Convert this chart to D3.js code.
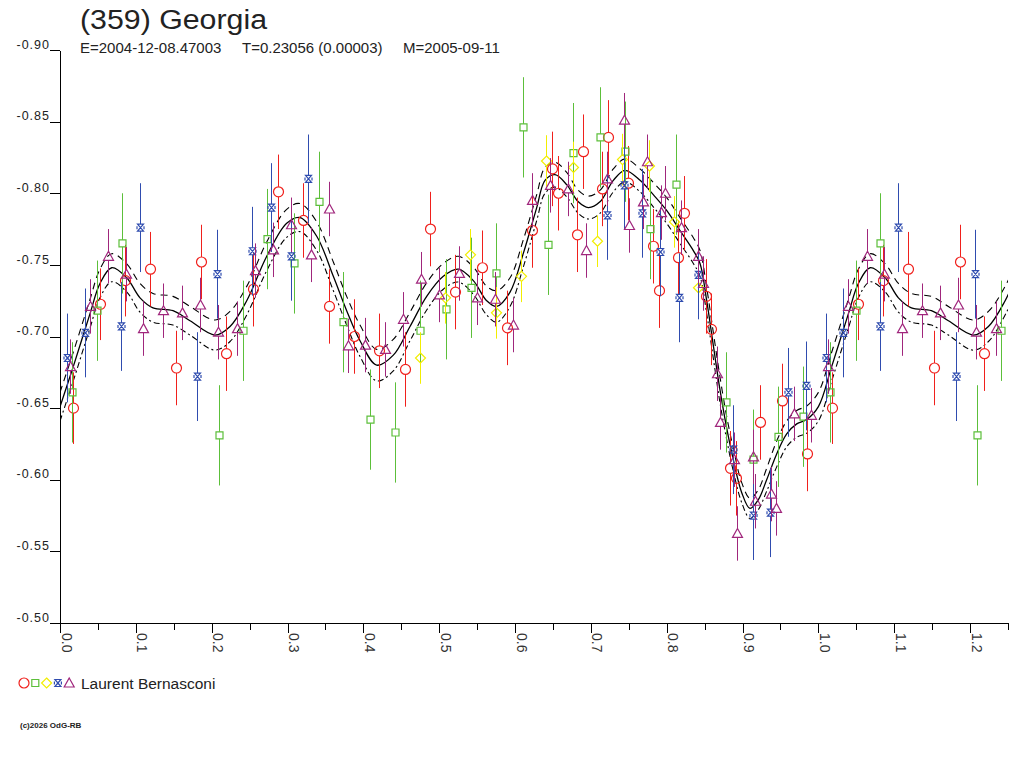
<!DOCTYPE html>
<html>
<head>
<meta charset="utf-8">
<script src="https://cdn.jsdelivr.net/npm/d3@7"></script>
<style>
  body { margin: 0; background: #fff; }
  svg { display: block; font-family: "Liberation Sans", Arial, sans-serif; }
</style>
</head>
<body>
<svg id="chart" width="1024" height="768"></svg>
<script>
// observations per session: [phase, magnitude, error]
const red = [
  [0.0175, -0.650, 0.025], [0.0527, -0.7225, 0.025], [0.0857, -0.739, 0.025], [0.1187, -0.747, 0.026],
  [0.1530, -0.678, 0.026], [0.1863, -0.752, 0.026], [0.2189, -0.688, 0.026], [0.2541, -0.733, 0.026],
  [0.2868, -0.801, 0.026], [0.3198, -0.781, 0.026], [0.3551, -0.721, 0.026], [0.3881, -0.700, 0.026],
  [0.4206, -0.690, 0.026], [0.4553, -0.677, 0.026], [0.4883, -0.775, 0.026], [0.5208, -0.731, 0.026],
  [0.5564, -0.748, 0.026], [0.5890, -0.706, 0.026], [0.6224, -0.774, 0.026], [0.6491, -0.817, 0.026],
  [0.6570, -0.800, 0.026], [0.6817, -0.771, 0.026], [0.6900, -0.829, 0.026], [0.7143, -0.803, 0.026],
  [0.7230, -0.839, 0.026], [0.7496, -0.807, 0.026], [0.7823, -0.763, 0.026], [0.7902, -0.732, 0.026],
  [0.8155, -0.755, 0.026], [0.8232, -0.786, 0.026], [0.8518, -0.728, 0.026], [0.8584, -0.705, 0.025],
  [0.8834, -0.608, 0.026], [0.8914, -0.601, 0.026], [0.9230, -0.640, 0.026], [0.9516, -0.655, 0.026],
  [0.9846, -0.618, 0.026]
];
const green = [
  [0.0154, -0.661, 0.035], [0.0492, -0.718, 0.035], [0.0814, -0.765, 0.035], [0.2093, -0.631, 0.035],
  [0.2413, -0.704, 0.035], [0.2736, -0.768, 0.035], [0.3085, -0.751, 0.035], [0.3415, -0.794, 0.035],
  [0.3736, -0.710, 0.035], [0.4088, -0.642, 0.035], [0.4417, -0.633, 0.035], [0.4747, -0.704, 0.035],
  [0.5090, -0.719, 0.035], [0.5423, -0.734, 0.035], [0.5753, -0.744, 0.035], [0.6101, -0.846, 0.035],
  [0.6435, -0.764, 0.035], [0.6760, -0.828, 0.035], [0.7116, -0.839, 0.035], [0.7450, -0.829, 0.035],
  [0.7780, -0.775, 0.035], [0.8126, -0.806, 0.035], [0.8786, -0.654, 0.035], [0.9142, -0.614, 0.035],
  [0.9471, -0.630, 0.035], [0.9801, -0.644, 0.035]
];
const yellow = [
  [0.4747, -0.685, 0.018], [0.5073, -0.727, 0.018], [0.5402, -0.757, 0.018], [0.5749, -0.7165, 0.018],
  [0.6079, -0.742, 0.018], [0.6404, -0.8225, 0.018], [0.6768, -0.818, 0.018], [0.7085, -0.7665, 0.018],
  [0.7413, -0.8235, 0.018], [0.7762, -0.819, 0.018], [0.8092, -0.780, 0.018], [0.8416, -0.734, 0.018]
];
const blue = [
  [0.0096, -0.685, 0.031], [0.0330, -0.7025, 0.031], [0.0808, -0.707, 0.031], [0.1055, -0.776, 0.031],
  [0.1810, -0.672, 0.031], [0.2070, -0.7435, 0.031], [0.2538, -0.7595, 0.031], [0.2780, -0.790, 0.031],
  [0.3046, -0.756, 0.031], [0.3274, -0.810, 0.031], [0.7206, -0.7845, 0.031], [0.7443, -0.8055, 0.031],
  [0.7678, -0.786, 0.031], [0.7915, -0.759, 0.031], [0.8165, -0.727, 0.031], [0.8406, -0.743, 0.031],
  [0.8878, -0.621, 0.031], [0.9134, -0.575, 0.031], [0.9362, -0.577, 0.031], [0.9603, -0.661, 0.031],
  [0.9837, -0.6655, 0.031]
];
const purple = [
  [0.0132, -0.679, 0.019], [0.0396, -0.721, 0.019], [0.0637, -0.756, 0.019], [0.0870, -0.7435, 0.019],
  [0.1098, -0.7055, 0.019], [0.1362, -0.718, 0.019], [0.1605, -0.7165, 0.019], [0.1846, -0.722, 0.019],
  [0.2077, -0.703, 0.019], [0.2338, -0.7055, 0.019], [0.2571, -0.746, 0.019], [0.2813, -0.7605, 0.019],
  [0.3046, -0.778, 0.019], [0.3314, -0.757, 0.019], [0.3551, -0.789, 0.019], [0.3793, -0.6935, 0.019],
  [0.4026, -0.694, 0.019], [0.4289, -0.691, 0.019], [0.4527, -0.712, 0.019], [0.4764, -0.740, 0.019],
  [0.5001, -0.729, 0.019], [0.5265, -0.744, 0.019], [0.5502, -0.727, 0.019], [0.5740, -0.726, 0.019],
  [0.5977, -0.708, 0.019], [0.6228, -0.795, 0.019], [0.6461, -0.8055, 0.019], [0.6702, -0.803, 0.019],
  [0.6940, -0.760, 0.019], [0.7207, -0.810, 0.019], [0.7441, -0.851, 0.019], [0.7507, -0.7775, 0.019],
  [0.7681, -0.794, 0.019], [0.7744, -0.822, 0.019], [0.7918, -0.7865, 0.019], [0.7980, -0.800, 0.019],
  [0.8186, -0.776, 0.019], [0.8417, -0.756, 0.019], [0.8472, -0.737, 0.019], [0.8659, -0.674, 0.019],
  [0.8703, -0.640, 0.019], [0.8891, -0.614, 0.019], [0.8931, -0.5625, 0.019], [0.9142, -0.616, 0.019],
  [0.9168, -0.585, 0.019], [0.9371, -0.590, 0.019], [0.9437, -0.580, 0.019], [0.9674, -0.646, 0.019],
  [0.9902, -0.645, 0.019]
];

// fitted lightcurve (one period) and its uncertainty band
const curvePhase = [0.000, 0.0175, 0.0396, 0.0527, 0.0682, 0.0879, 0.1055, 0.1226, 0.1490, 0.1714,
  0.2044, 0.2242, 0.2462, 0.2726, 0.2989, 0.3165, 0.3385, 0.3604, 0.3780, 0.3956, 0.4176, 0.4395,
  0.4615, 0.4835, 0.5054, 0.5252, 0.5450, 0.5626, 0.5758, 0.5934, 0.6109, 0.6286, 0.6395, 0.6527,
  0.6681, 0.6834, 0.6966, 0.7120, 0.7296, 0.7450, 0.7648, 0.7823, 0.7999, 0.8175, 0.8351, 0.8439,
  0.8527, 0.8614, 0.8703, 0.8791, 0.8878, 0.8989, 0.9098, 0.9207, 0.9318, 0.9450, 0.9582, 0.9714,
  0.9846];
const curveMag = [-0.651, -0.679, -0.716, -0.737, -0.748, -0.741, -0.727, -0.720, -0.718, -0.711,
  -0.701, -0.707, -0.725, -0.756, -0.779, -0.783, -0.770, -0.742, -0.718, -0.697, -0.680, -0.687,
  -0.707, -0.728, -0.742, -0.747, -0.739, -0.725, -0.721, -0.731, -0.758, -0.790, -0.809, -0.813,
  -0.806, -0.794, -0.790, -0.794, -0.809, -0.816, -0.809, -0.799, -0.788, -0.774, -0.760, -0.751,
  -0.725, -0.694, -0.6625, -0.636, -0.614, -0.591, -0.580, -0.586, -0.600, -0.618, -0.632, -0.639,
  -0.642];
const curveBand = [0.010, 0.010, 0.010, 0.010, 0.0098, 0.0098, 0.010, 0.010, 0.010, 0.010,
  0.0105, 0.0105, 0.010, 0.010, 0.0098, 0.0098, 0.010, 0.010, 0.010, 0.011, 0.011, 0.011,
  0.010, 0.0095, 0.009, 0.009, 0.0095, 0.010, 0.011, 0.010, 0.0095, 0.009, 0.009, 0.0087,
  0.0085, 0.008, 0.008, 0.008, 0.008, 0.008, 0.008, 0.0085, 0.009, 0.009, 0.009, 0.009,
  0.009, 0.009, 0.009, 0.008, 0.008, 0.007, 0.007, 0.007, 0.008, 0.009, 0.009, 0.0093,
  0.0095];

const xTicks = [0, 0.1, 0.2, 0.3, 0.4, 0.5, 0.6, 0.7, 0.8, 0.9, 1.0, 1.1, 1.2];
const xMinorTicks = [0.05, 0.15, 0.25, 0.35, 0.45, 0.55, 0.65, 0.75, 0.85, 0.95, 1.05, 1.15, 1.25];
const yTicks = [-0.90, -0.85, -0.80, -0.75, -0.70, -0.65, -0.60, -0.55, -0.50];
const subtitle = ["E=2004-12-08.47003", "T=0.23056 (0.00003)", "M=2005-09-11"];

const series = [
  { data: red, color: "#f0201c", shape: "circle" },
  { data: green, color: "#5cbf3a", shape: "square" },
  { data: yellow, color: "#f2ee00", shape: "diamond" },
  { data: blue, color: "#2f4caf", shape: "hourglass" },
  { data: purple, color: "#a0267c", shape: "triangle" }
];

const svg = d3.select("#chart");
svg.append("rect").attr("width", 1024).attr("height", 768).attr("fill", "#fff");

const x = d3.scaleLinear().domain([0, 1.25]).range([60, 1008]);
const y = d3.scaleLinear().domain([-0.90, -0.50]).range([50, 623]);

// marker outlines, centred on (0,0); gap = part of the error bar hidden by the marker
const shapes = {
  circle: { d: "M-5,0A5,5 0 1,0 5,0A5,5 0 1,0 -5,0Z", gapTop: 5, gapBot: 5 },
  square: { d: "M-3.5,-3.5H3.5V3.5H-3.5Z", gapTop: 3.5, gapBot: 3.5 },
  diamond: { d: "M0,-5L5,0L0,5L-5,0Z", gapTop: 5, gapBot: 5 },
  hourglass: { d: "M-3,-3.5H3L-3,3.5H3Z M-3.5,-1.5V1.5 M3.5,-1.5V1.5", gapTop: 3.5, gapBot: 3.5 },
  triangle: { d: "M0,-5L5,4H-5Z", gapTop: 5, gapBot: 4 }
};

// titles
svg.append("text").attr("x", 80).attr("y", 29)
  .attr("font-size", 27).attr("fill", "#222")
  .attr("textLength", 187).attr("lengthAdjust", "spacingAndGlyphs")
  .text("(359) Georgia");

const subX = [80, 242, 403];
svg.selectAll("text.sub")
  .data(subtitle)
  .join("text")
  .attr("class", "sub")
  .attr("x", (d, i) => subX[i]).attr("y", 53)
  .attr("font-size", 15).attr("fill", "#222")
  .text(d => d);

// axes
const yAxis = svg.append("g")
  .attr("transform", "translate(60,0)")
  .call(d3.axisLeft(y).tickValues(yTicks).tickSize(10).tickSizeOuter(0).tickFormat(d => d.toFixed(2)));
yAxis.selectAll("text")
  .attr("x", -10).attr("dy", "-0.15em")
  .attr("font-size", 12.5).attr("letter-spacing", 1).attr("fill", "#222")
  .attr("font-family", "Liberation Sans, Arial, sans-serif");

const xAxis = svg.append("g")
  .attr("transform", "translate(0,623)")
  .call(d3.axisBottom(x).tickValues(xTicks).tickSize(10).tickSizeOuter(0).tickFormat(d3.format(".1f")));
xAxis.selectAll("text")
  .attr("transform", "rotate(90)")
  .attr("x", 10).attr("y", -1).attr("dy", 0)
  .attr("text-anchor", "start")
  .attr("font-size", 14).attr("fill", "#333")
  .attr("font-family", "Liberation Sans, Arial, sans-serif");

svg.append("g")
  .attr("transform", "translate(0,623)")
  .call(d3.axisBottom(x).tickValues(xMinorTicks).tickSize(7).tickSizeOuter(0).tickFormat(""))
  .select(".domain").remove();

svg.selectAll(".domain, .tick line")
  .attr("stroke", "#000").attr("shape-rendering", "crispEdges");

// fitted curve and band, repeated for phases beyond 1.0
const fit = curvePhase.map((p, i) => ({ p, m: curveMag[i], b: curveBand[i] }));
const fitExt = fit.concat(fit.map(d => ({ p: d.p + 1, m: d.m, b: d.b })), [{ p: 2, m: fit[0].m, b: fit[0].b }]);

svg.append("clipPath").attr("id", "plot-clip")
  .append("rect").attr("x", 60).attr("y", 0).attr("width", 948).attr("height", 623);

const curves = svg.append("g").attr("clip-path", "url(#plot-clip)").attr("fill", "none").attr("stroke", "#000");
const lineOf = (f) => d3.line().x(d => x(d.p)).y(f).curve(d3.curveCatmullRom.alpha(0.5));

curves.append("path").datum(fitExt)
  .attr("stroke-width", 1.3)
  .attr("d", lineOf(d => y(d.m)));
curves.append("path").datum(fitExt)
  .attr("stroke-width", 1.1).attr("stroke-dasharray", "7,5")
  .attr("d", lineOf(d => y(d.m - d.b)));
curves.append("path").datum(fitExt)
  .attr("stroke-width", 1.1).attr("stroke-dasharray", "6,3,2,3")
  .attr("d", lineOf(d => y(d.m + d.b)));

// observations, with phases < 0.25 repeated after 1.0
series.forEach(s => {
  const pts = s.data.concat(s.data.filter(d => d[0] + 1 <= 1.25).map(d => [d[0] + 1, d[1], d[2]]));
  const sh = shapes[s.shape];
  const px = d => Math.round(x(d[0])) + 0.5;
  const g = svg.append("g").attr("stroke", s.color).attr("fill", "none");

  g.selectAll("line.top")
    .data(pts)
    .join("line")
    .attr("class", "top")
    .attr("x1", px).attr("x2", px)
    .attr("y1", d => y(d[1] - d[2])).attr("y2", d => y(d[1]) - sh.gapTop);

  g.selectAll("line.bot")
    .data(pts)
    .join("line")
    .attr("class", "bot")
    .attr("x1", px).attr("x2", px)
    .attr("y1", d => y(d[1]) + sh.gapBot).attr("y2", d => y(d[1] + d[2]));

  g.selectAll("path")
    .data(pts)
    .join("path")
    .attr("stroke-width", 1.2)
    .attr("transform", d => `translate(${px(d)},${y(d[1])})`)
    .attr("d", sh.d);
});

// legend
const legend = svg.append("g").attr("transform", "translate(0,683)");
legend.selectAll("path")
  .data(series)
  .join("path")
  .attr("transform", (d, i) => `translate(${24 + i * 11.3},0)`)
  .attr("d", d => shapes[d.shape].d)
  .attr("fill", "none")
  .attr("stroke", d => d.color)
  .attr("stroke-width", 1.2);
legend.append("text").attr("x", 81).attr("y", 5.5)
  .attr("font-size", 15.5).attr("fill", "#222").text("Laurent Bernasconi");

svg.append("text").attr("x", 20).attr("y", 728)
  .attr("font-size", 8).attr("font-weight", "bold").attr("fill", "#222")
  .text("(c)2026 OdG-RB");
</script>
</body>
</html>
